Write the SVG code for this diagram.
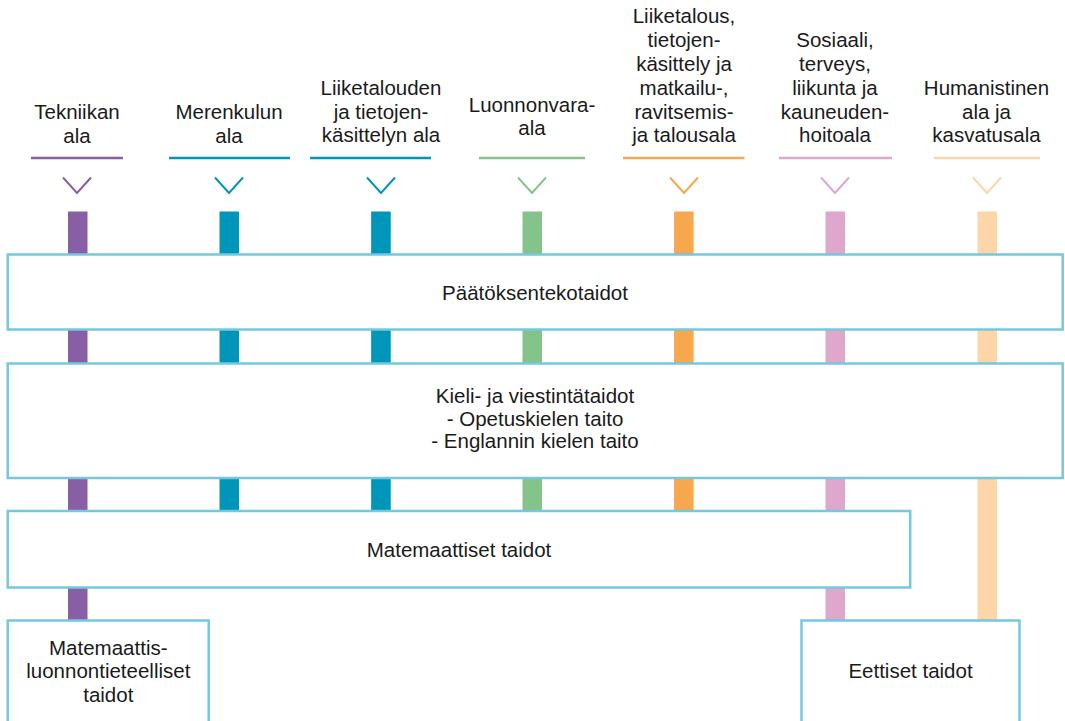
<svg xmlns="http://www.w3.org/2000/svg" width="1065" height="721" viewBox="0 0 1065 721">
<style>
text{font-family:"Liberation Sans",Arial,sans-serif;font-size:20.5px;fill:#1a1a1a;text-anchor:middle}
.box{fill:#fff;stroke:#74c8df;stroke-width:2.5}
.ul{stroke-width:2.5;fill:none}
.chev{stroke-width:2;fill:none}
.c1{stroke:#885ea4;fill:#885ea4}
.c2{stroke:#0096ba;fill:#0096ba}
.c3{stroke:#84c48b;fill:#84c48b}
.c4{stroke:#f7a84f;fill:#f7a84f}
.c5{stroke:#dea7cb;fill:#dea7cb}
.c6{stroke:#fdd6a7;fill:#fdd6a7}
</style>
<g id="connectors">
<rect class="c1" x="68.5" y="212" width="18.5" height="408" stroke="none"/>
<rect class="c2" x="220" y="212" width="18.5" height="299" stroke="none"/>
<rect class="c2" x="371.7" y="212" width="18.5" height="299" stroke="none"/>
<rect class="c3" x="523" y="212" width="18.5" height="299" stroke="none"/>
<rect class="c4" x="674.6" y="212" width="18.5" height="299" stroke="none"/>
<rect class="c5" x="826" y="212" width="18.5" height="408" stroke="none"/>
<rect class="c6" x="978" y="212" width="18.5" height="408" stroke="none"/>
</g>
<g id="col-tekniikka">
<text x="77" y="119.3">Tekniikan</text>
<text x="77" y="143">ala</text>
<line class="ul c1" x1="31" y1="158" x2="123" y2="158"/>
<polyline class="chev c1" points="63,177.5 77,193 91,177.5" style="fill:none"/>
</g>
<g id="col-merenkulku">
<text x="229" y="119.3">Merenkulun</text>
<text x="229" y="143">ala</text>
<line class="ul c2" x1="169" y1="158" x2="290" y2="158"/>
<polyline class="chev c2" points="215,177.5 229,193 243,177.5" style="fill:none"/>
</g>
<g id="col-liiketalous">
<text x="381" y="95">Liiketalouden</text>
<text x="381" y="118.5">ja tietojen-</text>
<text x="381" y="142">käsittelyn ala</text>
<line class="ul c2" x1="310" y1="158" x2="431" y2="158"/>
<polyline class="chev c2" points="367,177.5 381,193 395,177.5" style="fill:none"/>
</g>
<g id="col-luonnonvara">
<text x="532" y="111.5">Luonnonvara-</text>
<text x="532" y="135">ala</text>
<line class="ul c3" x1="479" y1="158" x2="585" y2="158"/>
<polyline class="chev c3" points="518,177.5 532,193 546,177.5" style="fill:none"/>
</g>
<g id="col-matkailu">
<text x="684" y="23">Liiketalous,</text>
<text x="684" y="47">tietojen-</text>
<text x="684" y="70.7">käsittely ja</text>
<text x="684" y="95">matkailu-,</text>
<text x="684" y="118.5">ravitsemis-</text>
<text x="684" y="142">ja talousala</text>
<line class="ul c4" x1="623" y1="158" x2="744.5" y2="158"/>
<polyline class="chev c4" points="670,177.5 684,193 698,177.5" style="fill:none"/>
</g>
<g id="col-sosiaali">
<text x="835" y="47">Sosiaali,</text>
<text x="835" y="70.7">terveys,</text>
<text x="835" y="95">liikunta ja</text>
<text x="835" y="118.5">kauneuden-</text>
<text x="835" y="142">hoitoala</text>
<line class="ul c5" x1="779" y1="158" x2="892" y2="158"/>
<polyline class="chev c5" points="821,177.5 835,193 849,177.5" style="fill:none"/>
</g>
<g id="col-humanistinen">
<text x="986.5" y="95">Humanistinen</text>
<text x="986.5" y="118.5">ala ja</text>
<text x="986.5" y="142">kasvatusala</text>
<line class="ul c6" x1="934" y1="158" x2="1040" y2="158"/>
<polyline class="chev c6" points="973,177.5 987,193 1001,177.5" style="fill:none"/>
</g>
<g id="box-paatoksenteko">
<rect class="box" x="7.7" y="254.5" width="1055" height="75"/>
<text x="535" y="300">Päätöksentekotaidot</text>
</g>
<g id="box-kieli">
<rect class="box" x="7.7" y="363.5" width="1055" height="114.5"/>
<text x="535" y="403">Kieli- ja viestintätaidot</text>
<text x="535" y="425.7">- Opetuskielen taito</text>
<text x="535" y="448.3">- Englannin kielen taito</text>
</g>
<g id="box-matematiikka">
<rect class="box" x="7.7" y="511" width="902.5" height="76.5"/>
<text x="459" y="557">Matemaattiset taidot</text>
</g>
<g id="box-luonnontiede">
<rect class="box" x="7.7" y="620.5" width="201" height="112"/>
<text x="108.3" y="655">Matemaattis-</text>
<text x="108.3" y="678">luonnontieteelliset</text>
<text x="108.3" y="701.5">taidot</text>
</g>
<g id="box-eettiset">
<rect class="box" x="801.5" y="620.5" width="218" height="112"/>
<text x="910.5" y="678.3">Eettiset taidot</text>
</g>
</svg>
